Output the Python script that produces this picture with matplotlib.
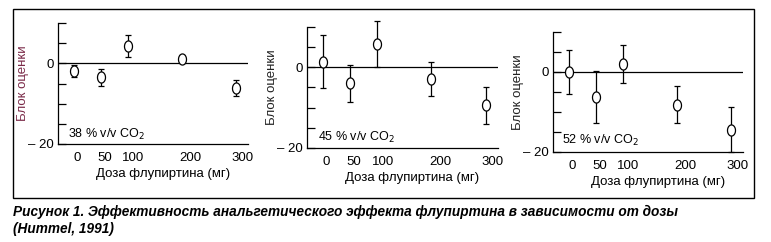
import matplotlib
matplotlib.use("Agg")
import matplotlib.pyplot as plt
from matplotlib.patches import Rectangle
from matplotlib.path import Path
import numpy as np

plt.rcParams['font.family'] = ['Liberation Sans', 'DejaVu Sans']

doses = [0, 50, 100, 200, 300]
dose_labels = ['0', '50', '100', '200', '300']
label_pos = [6, 56, 110, 216, 313]   # labels sit a bit right of the points

co2 = ['38', '45', '52']
means = [
    [-1.8, -3.5, 4.3, 1.1, -6.1],
    [1.4, -3.9, 5.8, -3.0, -9.4],
    [0.0, -6.3, 2.0, -8.2, -14.4],
]
errs = [
    [1.5, 2.2, 2.8, 1.0, 2.0],
    [6.6, 4.6, 5.7, 4.2, 4.6],
    [5.5, 6.5, 4.7, 4.6, 5.6],
]
ylab_colors = ['#7a2a48', '#222222', '#222222']

W, H = 771, 242
fig = plt.figure(figsize=(W / 100, H / 100), dpi=100)

# axes boxes in pixels: left, right, top, bottom
boxes = [(58, 248, 23, 144), (307, 498, 27, 148), (553, 743, 32, 152)]
txt_pos = [(0.05, 0.075), (0.06, 0.09), (0.05, 0.10)]

# slightly tall open ellipse like in the print
t = np.linspace(0, 2 * np.pi, 60)
ell = Path(np.column_stack([0.72 * np.cos(t), np.sin(t)]), closed=True)

for i, (l, r, tp, b) in enumerate(boxes):
    w, h = r - l, b - tp
    ax = fig.add_axes([l / W, 1 - b / H, w / W, h / H])
    ax.errorbar(doses, means[i], yerr=errs[i], fmt='none', ecolor='black',
                elinewidth=0.9, capsize=2.2, capthick=0.9, clip_on=False, zorder=2)
    ax.plot(doses, means[i], linestyle='none', marker=ell, markersize=8,
            mfc='white', mec='black', mew=0.9, clip_on=False, zorder=3)
    ax.axhline(0, color='black', lw=0.9, zorder=1)
    ax.set_xlim(-30, 323)
    ax.set_ylim(-20, 10)
    ax.set_yticks([-20, -15, -10, -5, 0, 5, 10])
    ax.set_yticklabels(['\u2013 20', '', '', '', '0', '', ''])
    ax.set_xticks(label_pos)
    ax.set_xticklabels(dose_labels)
    ax.tick_params(axis='y', direction='in', length=5.5, width=0.9, pad=3,
                   labelsize=9.5)
    ax.tick_params(axis='x', length=0, pad=6, labelsize=9.5)
    for s in ['top', 'right']:
        ax.spines[s].set_visible(False)
    for s in ['left', 'bottom']:
        ax.spines[s].set_linewidth(0.9)
    ax.set_xlabel('Доза флупиртина (мг)', fontsize=9.5, va='center')
    ax.xaxis.set_label_coords(0.5 + 10 / w, -30 / h)
    ax.set_ylabel('Блок оценки', fontsize=9.5, color=ylab_colors[i], va='center')
    ax.yaxis.set_label_coords(-35 / w, 0.5)
    ax.text(txt_pos[i][0], txt_pos[i][1], co2[i] + ' % v/v CO$_2$',
            transform=ax.transAxes, fontsize=9, va='center', ha='left')

fig.patches.append(Rectangle((13 / W, 1 - 198 / H), (754 - 13) / W, (198 - 9) / H,
                             transform=fig.transFigure, fill=False,
                             edgecolor='black', lw=1.0))

fig.text(13 / W, 1 - 216 / H,
         'Рисунок 1. Эффективность анальгетического эффекта флупиртина в зависимости от дозы',
         fontsize=9.85, fontweight='bold', fontstyle='italic', va='baseline', ha='left')
fig.text(13 / W, 1 - 233 / H, '(Hummel, 1991)',
         fontsize=9.85, fontweight='bold', fontstyle='italic', va='baseline', ha='left')

fig.savefig('out.png', dpi=100)
